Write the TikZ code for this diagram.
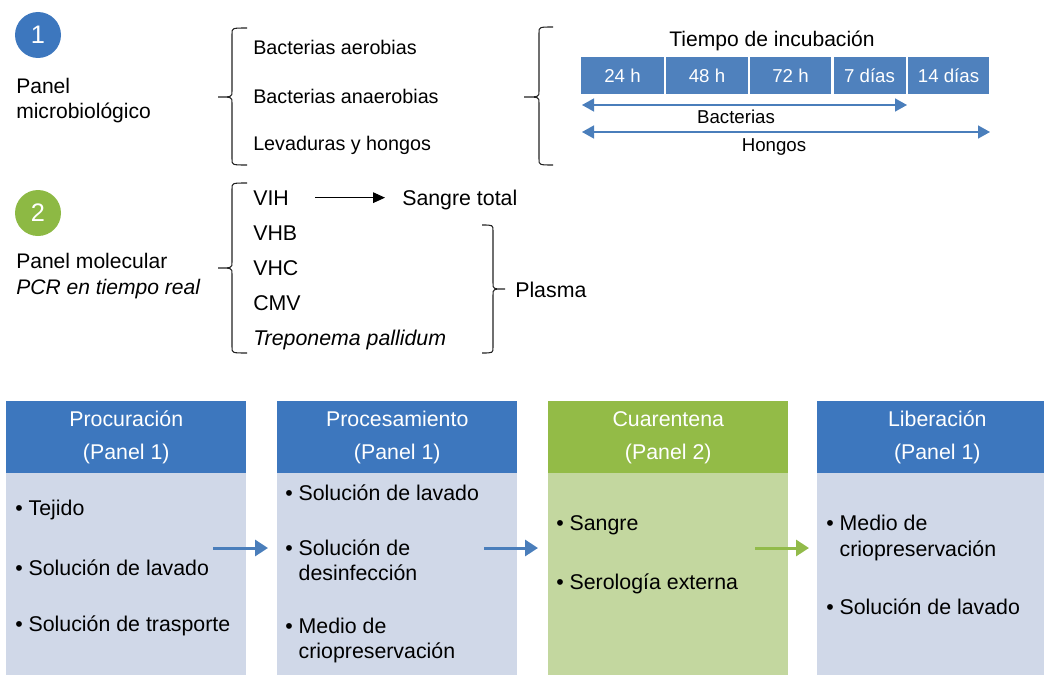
\documentclass[tikz,border=0pt]{standalone}
\usepackage{fontspec}
\setmainfont{Liberation Sans}
\usetikzlibrary{arrows.meta}
\definecolor{hblue}{HTML}{3D77BE}
\definecolor{bblue}{HTML}{D0D8E8}
\definecolor{hgreen}{HTML}{93BB47}
\definecolor{bgreen}{HTML}{C3D79F}
\definecolor{tblue}{HTML}{4F81BD}
\definecolor{ablue}{HTML}{4A7EBB}
\definecolor{agreen}{HTML}{92BB4A}
\definecolor{cgreen}{HTML}{8DB944}
\definecolor{brcol}{HTML}{222222}
\newcommand{\mybrace}[6]{\draw[brc] (#1,#4) .. controls (#2,#4) .. (#2,#4+6) -- (#2,#6-6) .. controls (#2,#6) .. (#3,#6) .. controls (#2,#6) .. (#2,#6+6) -- (#2,#5-6) .. controls (#2,#5) .. (#1,#5);}
\begin{document}
\begin{tikzpicture}[x=0.75pt,y=-0.75pt,
  txt/.style={inner sep=0pt, anchor=base west},
  toptxt/.style={txt, font=\fontsize{14.8}{18}\selectfont},
  lbl/.style={txt, font=\fontsize{15.8}{19}\selectfont},
  mol/.style={txt, font=\fontsize{16}{19}\selectfont},
  bul/.style={txt, font=\fontsize{16}{19}\selectfont},
  hdr/.style={inner sep=0pt, anchor=north west, minimum width=180pt, minimum height=54pt, text=white, align=center, font=\fontsize{16}{24.75}\selectfont},
  bodybox/.style={inner sep=0pt, anchor=north west, minimum width=180pt, minimum height=151pt},
  tbox/.style={fill=tblue, text=white, minimum height=27.75pt, inner sep=0pt, font=\fontsize{14}{16}\selectfont},
  numc/.style={circle, inner sep=0pt, minimum size=34.5pt, text=white, font=\fontsize{19}{19}\selectfont},
  brc/.style={draw=brcol, line width=0.8pt},
  conn/.style={line width=2.25pt, -{Triangle[length=9.75pt,width=12pt]}},
  tarrow/.style={draw=ablue, line width=1.1pt, {Triangle[length=9pt,width=9.75pt]}-{Triangle[length=9pt,width=9.75pt]}},
  blk/.style={line width=0.75pt, -{Triangle[length=9pt,width=8pt]}}]
\useasboundingbox (0,0) rectangle (1044,674);
\clip (0,0) rectangle (1044,674);

% ---------- Panel 1 ----------
\node[numc, fill=hblue] (c1) at (38,35) {1};
\node[lbl] (pm1) at (16,93) {Panel};
\node[lbl] (pm2) at (16,118) {microbiológico};
\mybrace{247}{232}{218}{28}{165}{97}
\node[toptxt] (b1) at (253,55) {Bacterias aerobias};
\node[toptxt] (b2) at (253,103) {Bacterias anaerobias};
\node[toptxt] (b3) at (253,150) {Levaduras y hongos};
\mybrace{553}{539}{524}{27}{165}{97}

\node[inner sep=0pt, anchor=base, font=\fontsize{15.8}{18}\selectfont] (ti) at (772,47) {Tiempo de incubación};
\node[tbox, minimum width=62.25pt] (t1) at (622.5,75.5) {24 h};
\node[tbox, minimum width=61.5pt] (t2) at (707,75.5) {48 h};
\node[tbox, minimum width=60.75pt] (t3) at (790.5,75.5) {72 h};
\node[tbox, minimum width=54pt] (t4) at (869.5,75.5) {7 días};
\node[tbox, minimum width=60.75pt] (t5) at (948.5,75.5) {14 días};
\coordinate (ba1) at (582,105);
\coordinate (ba2) at (907,105);
\coordinate (ha1) at (582,132);
\coordinate (ha2) at (990,132);
\draw[tarrow] (ba1) -- (ba2);
\draw[tarrow] (ha1) -- (ha2);
\node[inner sep=0pt, anchor=base, font=\fontsize{14}{16}\selectfont] (lb) at (736,123) {Bacterias};
\node[inner sep=0pt, anchor=base, font=\fontsize{14}{16}\selectfont] (lh) at (774,151) {Hongos};

% ---------- Panel 2 ----------
\node[numc, fill=cgreen] (c2) at (38,213) {2};
\node[lbl] (pq1) at (16,268) {Panel molecular};
\node[lbl] (pq2) at (16,294) {\itshape PCR en tiempo real};
\mybrace{247}{232}{218}{183}{353}{268}
\node[mol] (vih) at (253,205) {VIH};
\node[mol] (sangre) at (402,205) {Sangre total};
\coordinate (v1) at ([xshift=19.5pt]vih.east);
\path (v1 -| sangre.west) coordinate (v2);
\draw[blk] (v1) -- ([xshift=-12.75pt]v2);
\node[mol] (vhb) at (253,240) {VHB};
\node[mol] (vhc) at (253,275) {VHC};
\node[mol] (cmv) at (253,310) {CMV};
\node[mol] (tp) at (253,345) {\itshape Treponema pallidum};
\mybrace{482}{493}{505}{225}{353}{289}
\node[mol] (pl) at (515,297) {Plasma};

% ---------- Bottom boxes ----------
\node[bodybox, fill=bblue] (bd1) at (6,473) {};
\node[hdr, fill=hblue] (hd1) at (6,401) {Procuración\\(Panel 1)};
\node[bodybox, fill=bblue] (bd2) at (277,473) {};
\node[hdr, fill=hblue] (hd2) at (277,401) {Procesamiento\\(Panel 1)};
\node[bodybox, fill=bgreen] (bd3) at (548,473) {};
\node[hdr, fill=hgreen] (hd3) at (548,401) {Cuarentena\\(Panel 2)};
\node[bodybox, fill=bblue] (bd4) at (817,473) {};
\node[hdr, fill=hblue] (hd4) at (817,401) {Liberación\\(Panel 1)};

\node[bul] (i11) at (15,515) {\textbullet\ Tejido};
\node[bul] (i12) at (15,575) {\textbullet\ Solución de lavado};
\node[bul] (i13) at (15,631) {\textbullet\ Solución de trasporte};

\node[bul] (i21) at (285,500) {\textbullet\ Solución de lavado};
\node[bul] (i22) at (285,555) {\textbullet\ Solución de};
\node[bul] (i22b) at (285,580) {\phantom{\textbullet\ }desinfección};
\node[bul] (i23) at (285,633) {\textbullet\ Medio de};
\node[bul] (i23b) at (285,658) {\phantom{\textbullet\ }criopreservación};

\node[bul] (i31) at (556,530) {\textbullet\ Sangre};
\node[bul] (i32) at (556,589) {\textbullet\ Serología externa};

\node[bul] (i41) at (826,530) {\textbullet\ Medio de};
\node[bul] (i41b) at (826,556) {\phantom{\textbullet\ }criopreservación};
\node[bul] (i42) at (826,614) {\textbullet\ Solución de lavado};

\coordinate (a1s) at (213,548);
\coordinate (a1e) at (268,548);
\coordinate (a2s) at (484,548);
\coordinate (a2e) at (538,548);
\coordinate (a3s) at (755,548);
\coordinate (a3e) at (809,548);
\draw[conn, ablue] (a1s) -- (a1e);
\draw[conn, ablue] (a2s) -- (a2e);
\draw[conn, agreen] (a3s) -- (a3e);
\end{tikzpicture}
\end{document}
